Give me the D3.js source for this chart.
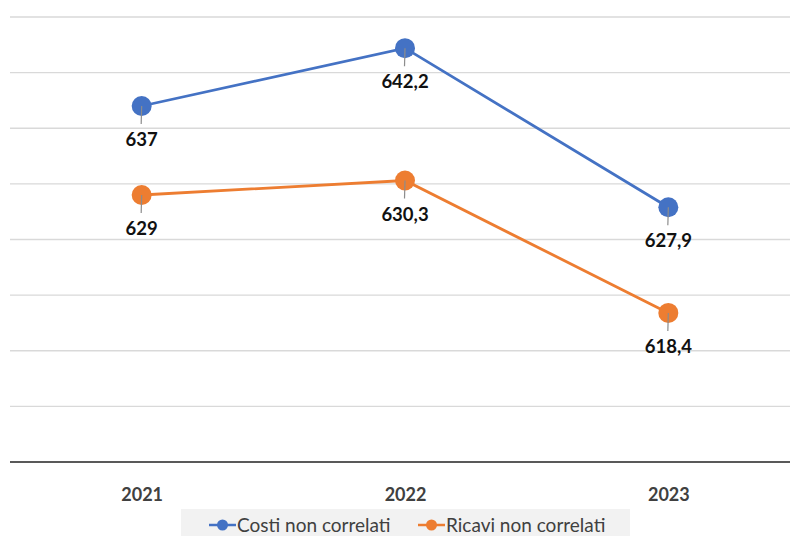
<!DOCTYPE html>
<html>
<head>
<meta charset="utf-8">
<script src="https://cdn.jsdelivr.net/npm/d3@7"></script>
<style>
  body { margin: 0; background: #fff; }
  svg { display: block; font-family: Lato, "Open Sans", sans-serif; }
</style>
</head>
<body>
<svg id="chart" width="790" height="536"></svg>
<script>
const years = ["2021", "2022", "2023"];
const costi = [637, 642.2, 627.9];
const ricavi = [629, 630.3, 618.4];
const seriesNames = ["Costi non correlati", "Ricavi non correlati"];
const seriesColors = ["#4472C4", "#ED7D31"];
const yTicks = [605, 610, 615, 620, 625, 630, 635, 640, 645];

const svg = d3.select("#chart");

const x = d3.scalePoint().domain(years).range([10, 800]).padding(0.5);
const y = d3.scaleLinear().domain([605, 645]).range([462, 17]);

// gridlines
svg.append("g").selectAll("line").data(yTicks.slice(1)).join("line")
  .attr("x1", 10).attr("x2", 790)
  .attr("y1", d => y(d)).attr("y2", d => y(d))
  .attr("stroke", "#d9d9d9").attr("stroke-width", 1.3);

// x axis
const xAxis = svg.append("g").attr("transform", "translate(0,462)")
  .call(d3.axisBottom(x).tickSize(0).tickPadding(26));
xAxis.select(".domain").remove();
xAxis.append("line").attr("x1", 10).attr("x2", 790)
  .attr("stroke", "#595959").attr("stroke-width", 2);
xAxis.selectAll("text").attr("font-size", 18).attr("font-weight", "bold")
  .attr("fill", "#404040").attr("font-family", "Lato, sans-serif");

const fmt = v => String(v).replace(".", ",");
const line = d3.line().x((d, i) => x(years[i])).y(d => y(d));

[costi, ricavi].forEach((vals, s) => {
  const g = svg.append("g");
  g.append("path").datum(vals).attr("d", line)
    .attr("fill", "none").attr("stroke", seriesColors[s]).attr("stroke-width", 2.8);
  g.selectAll("circle").data(vals).join("circle")
    .attr("cx", (d, i) => x(years[i])).attr("cy", d => y(d)).attr("r", 10)
    .attr("fill", seriesColors[s]);
  g.selectAll("line.leader").data(vals).join("line").attr("class", "leader")
    .attr("x1", (d, i) => x(years[i])).attr("x2", (d, i) => x(years[i]) - 0.5)
    .attr("y1", d => y(d)).attr("y2", d => y(d) + 18)
    .attr("stroke", "#8c8c8c").attr("stroke-width", 1.2);
  g.selectAll("text").data(vals).join("text")
    .attr("x", (d, i) => x(years[i])).attr("y", d => y(d) + 40)
    .attr("text-anchor", "middle").attr("font-size", 18.5).attr("font-weight", "bold")
    .attr("fill", "#111").text(fmt);
});

// legend
const legend = svg.append("g");
legend.append("rect").attr("x", 181).attr("y", 509).attr("width", 449).attr("height", 30)
  .attr("fill", "#f2f2f2");
const legendX = [209, 418];
seriesNames.forEach((name, s) => {
  const lg = legend.append("g").attr("transform", `translate(${legendX[s]},525)`);
  lg.append("line").attr("x1", 0).attr("x2", 27).attr("stroke", seriesColors[s]).attr("stroke-width", 2.5);
  lg.append("circle").attr("cx", 13.5).attr("r", 5.5).attr("fill", seriesColors[s]);
  lg.append("text").attr("x", 28).attr("y", 6.5).attr("font-size", 19)
    .attr("fill", "#404040").text(name);
});
</script>
</body>
</html>
